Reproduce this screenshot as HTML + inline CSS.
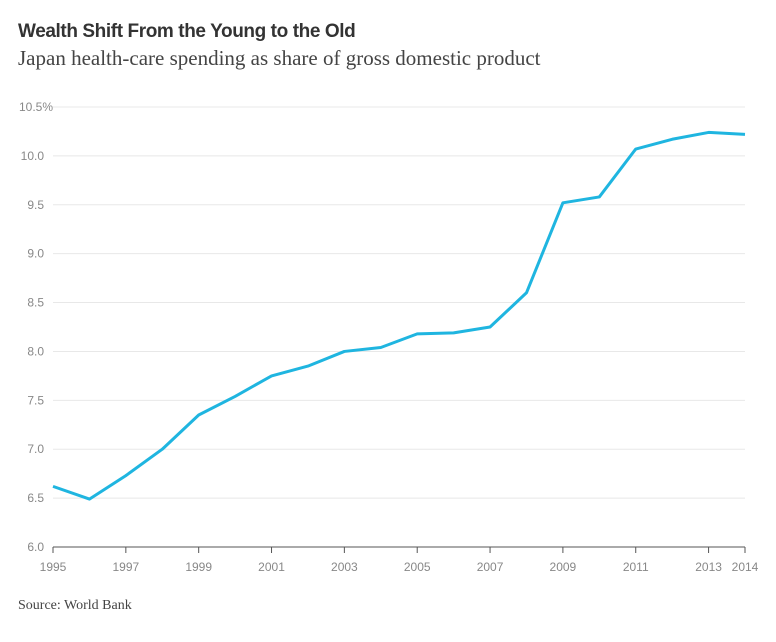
<!DOCTYPE html>
<html><head><meta charset="utf-8"><style>
body{margin:0;background:#fff;width:776px;height:642px;overflow:hidden}
svg{display:block}
</style></head><body>
<svg id="chart" width="776" height="642">
<text x="18" y="37" font-family="Liberation Sans, sans-serif" font-weight="bold" font-size="19" fill="#333" letter-spacing="-0.4">Wealth Shift From the Young to the Old</text>
<text x="18" y="65" font-family="Liberation Serif, serif" font-size="21" fill="#444">Japan health-care spending as share of gross domestic product</text>
<g id="grid"></g><g id="axes"></g><g id="series"></g>
<text x="18" y="609" font-family="Liberation Serif, serif" font-size="14" fill="#444">Source: World Bank</text>
</svg>
<script>
const years=[1995,1996,1997,1998,1999,2000,2001,2002,2003,2004,2005,2006,2007,2008,2009,2010,2011,2012,2013,2014];
const values=[6.62,6.49,6.73,7.0,7.35,7.54,7.75,7.85,8.0,8.04,8.18,8.19,8.25,8.6,9.52,9.58,10.07,10.17,10.24,10.22];
const yTicks=[6.0,6.5,7.0,7.5,8.0,8.5,9.0,9.5,10.0,10.5];
const xTicks=[1995,1997,1999,2001,2003,2005,2007,2009,2011,2013,2014];
const NS='http://www.w3.org/2000/svg';
const x=v=>53+(v-1995)*(745-53)/19;
const y=v=>547-(v-6)*(547-107)/4.5;
function mk(t,a,p){const e=document.createElementNS(NS,t);for(const k in a)e.setAttribute(k,a[k]);p.appendChild(e);return e;}
const grid=document.getElementById('grid'),axes=document.getElementById('axes'),ser=document.getElementById('series');
yTicks.forEach((v,i)=>{
 if(i>0){const l=mk('line',{x1:53,x2:745,y1:y(v),y2:y(v),stroke:'#e8e8e8','stroke-width':1},grid);
 
 }
 const t=mk('text',{x:44,y:y(v)+4,'font-family':'Liberation Sans, sans-serif','font-size':12,fill:'#888','text-anchor':'end'},axes);
 t.textContent=v.toFixed(1);
 if(i===yTicks.length-1){const s=mk('tspan',{},t);s.textContent='%';t.setAttribute('text-anchor','start');t.setAttribute('x',44-t.getComputedTextLength()+9);}
 
 
});
const ax=mk('line',{x1:53,x2:745,y1:547,y2:547,stroke:'#555','stroke-width':1},axes);


xTicks.forEach(v=>{
 const tk=mk('line',{x1:x(v),x2:x(v),y1:547,y2:553,stroke:'#555','stroke-width':1},axes);
 
 
 const t=mk('text',{x:x(v),y:571,'font-family':'Liberation Sans, sans-serif','font-size':12,fill:'#888','text-anchor':'middle'},axes);
 t.textContent=v;
 
 
});
const p=mk('polyline',{points:years.map((yr,i)=>x(yr)+','+y(values[i])).join(' '),fill:'none',stroke:'#1fb5e0','stroke-width':3,'stroke-linejoin':'round'},ser);


</script>
</body></html>
